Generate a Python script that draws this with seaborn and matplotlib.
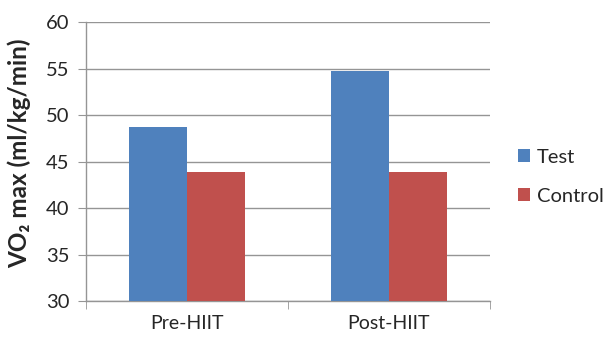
import matplotlib
matplotlib.use("Agg")
import matplotlib.pyplot as plt
import seaborn as sns
import pandas as pd
from matplotlib.ticker import FixedLocator

phases = ["Pre-HIIT", "Post-HIIT"]
groups = ["Test", "Control"]
test_vals = [48.7, 54.7]
control_vals = [43.9, 43.9]
yticks = [30, 35, 40, 45, 50, 55, 60]

df = pd.DataFrame({
    "phase": phases * 2,
    "group": [groups[0]] * 2 + [groups[1]] * 2,
    "value": test_vals + control_vals,
})

sns.set_style("white")
plt.rcParams["font.family"] = ["Lato", "DejaVu Sans"]

fig = plt.figure(figsize=(6.08, 3.39), dpi=100)
ax = fig.add_axes([0.1414, 0.112, 0.664, 0.823])

sns.barplot(data=df, x="phase", y="value", hue="group", order=phases,
            hue_order=groups, palette=["#4F81BD", "#C0504D"],
            width=0.575, saturation=1, ax=ax, zorder=3, legend=True,
            linewidth=0)

ax.set_ylim(30, 60)
ax.set_xlim(-0.5, 1.5)
ax.set_yticks(yticks)
ax.yaxis.grid(True, color="#959595", linewidth=1, zorder=0)
ax.set_axisbelow(True)
for s in ["top", "right"]:
    ax.spines[s].set_visible(False)
for s in ["left", "bottom"]:
    ax.spines[s].set_color("#959595")
    ax.spines[s].set_linewidth(1)

ax.tick_params(axis="y", which="major", length=6, color="#959595",
               labelsize=14.5, pad=6, direction="out", left=True)
ax.tick_params(axis="x", which="major", length=0, labelsize=14, pad=10)
ax.xaxis.set_minor_locator(FixedLocator([-0.5, 0.5, 1.5]))
ax.tick_params(axis="x", which="minor", length=6, color="#959595",
               direction="out", bottom=True)

ax.set_xlabel("")
ax.set_ylabel("VO₂ max (ml/kg/min)", fontsize=17.5, fontweight="bold")
ax.yaxis.set_label_coords(-0.135, 0.53)

leg = ax.legend(loc="center left", bbox_to_anchor=(1.05, 0.445), frameon=False,
                fontsize=14.5, handlelength=0.6, handleheight=0.6,
                handletextpad=0.35, labelspacing=1.1, borderaxespad=0)

fig.savefig("out.png", dpi=100)
